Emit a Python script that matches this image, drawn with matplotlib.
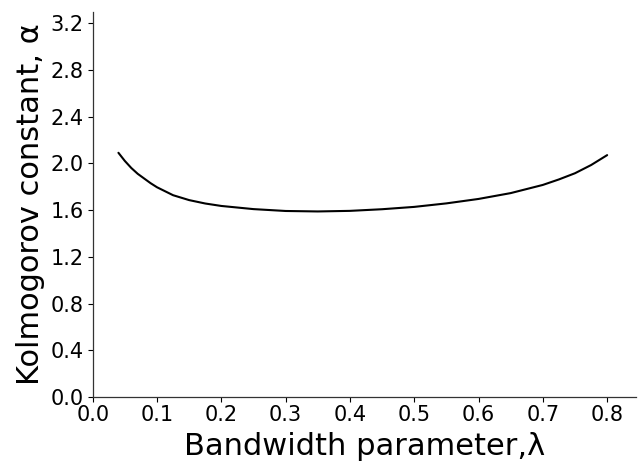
import matplotlib
matplotlib.use("Agg")
import matplotlib.pyplot as plt

# Data
bandwidth = [0.04, 0.05, 0.06, 0.07, 0.08, 0.09, 0.10, 0.125, 0.15, 0.175, 0.20,
             0.25, 0.30, 0.35, 0.40, 0.45, 0.50, 0.55, 0.60, 0.65, 0.70, 0.725,
             0.75, 0.775, 0.80]
kolmogorov = [2.09, 2.02, 1.96, 1.91, 1.87, 1.83, 1.795, 1.727, 1.685, 1.656, 1.635,
              1.608, 1.592, 1.588, 1.593, 1.607, 1.627, 1.657, 1.695, 1.745, 1.815, 1.862,
              1.915, 1.985, 2.07]
xticks = [0.0, 0.1, 0.2, 0.3, 0.4, 0.5, 0.6, 0.7, 0.8]
yticks = [0.0, 0.4, 0.8, 1.2, 1.6, 2.0, 2.4, 2.8, 3.2]

plt.rcParams['font.family'] = ['DejaVu Sans']

fig = plt.figure(figsize=(6.38, 4.65), dpi=100)
ax = fig.add_axes([0.1453, 0.1462, 0.997 - 0.1453, 0.974 - 0.1462])

ax.plot(bandwidth, kolmogorov, color='black', linewidth=1.5,
        solid_joinstyle='round', solid_capstyle='round')

ax.set_xlim(0, 0.845)
ax.set_ylim(0, 3.294)
ax.set_xticks(xticks)
ax.set_yticks(yticks)
ax.set_xticklabels([f"{v:.1f}" for v in xticks])
ax.set_yticklabels([f"{v:.1f}" for v in yticks])

for s in ['top', 'right']:
    ax.spines[s].set_visible(False)
for s in ['left', 'bottom']:
    ax.spines[s].set_linewidth(0.9)
    ax.spines[s].set_color('#333333')

ax.tick_params(axis='both', direction='out', length=3.5, width=0.8,
               labelsize=15, colors='black')
ax.tick_params(axis='y', pad=3)
ax.tick_params(axis='x', pad=2)

ax.set_xlabel('Bandwidth parameter,λ', fontsize=22, labelpad=5)
ax.set_ylabel('Kolmogorov constant, α', fontsize=22, labelpad=4)

fig.savefig('out.png', dpi=100)
